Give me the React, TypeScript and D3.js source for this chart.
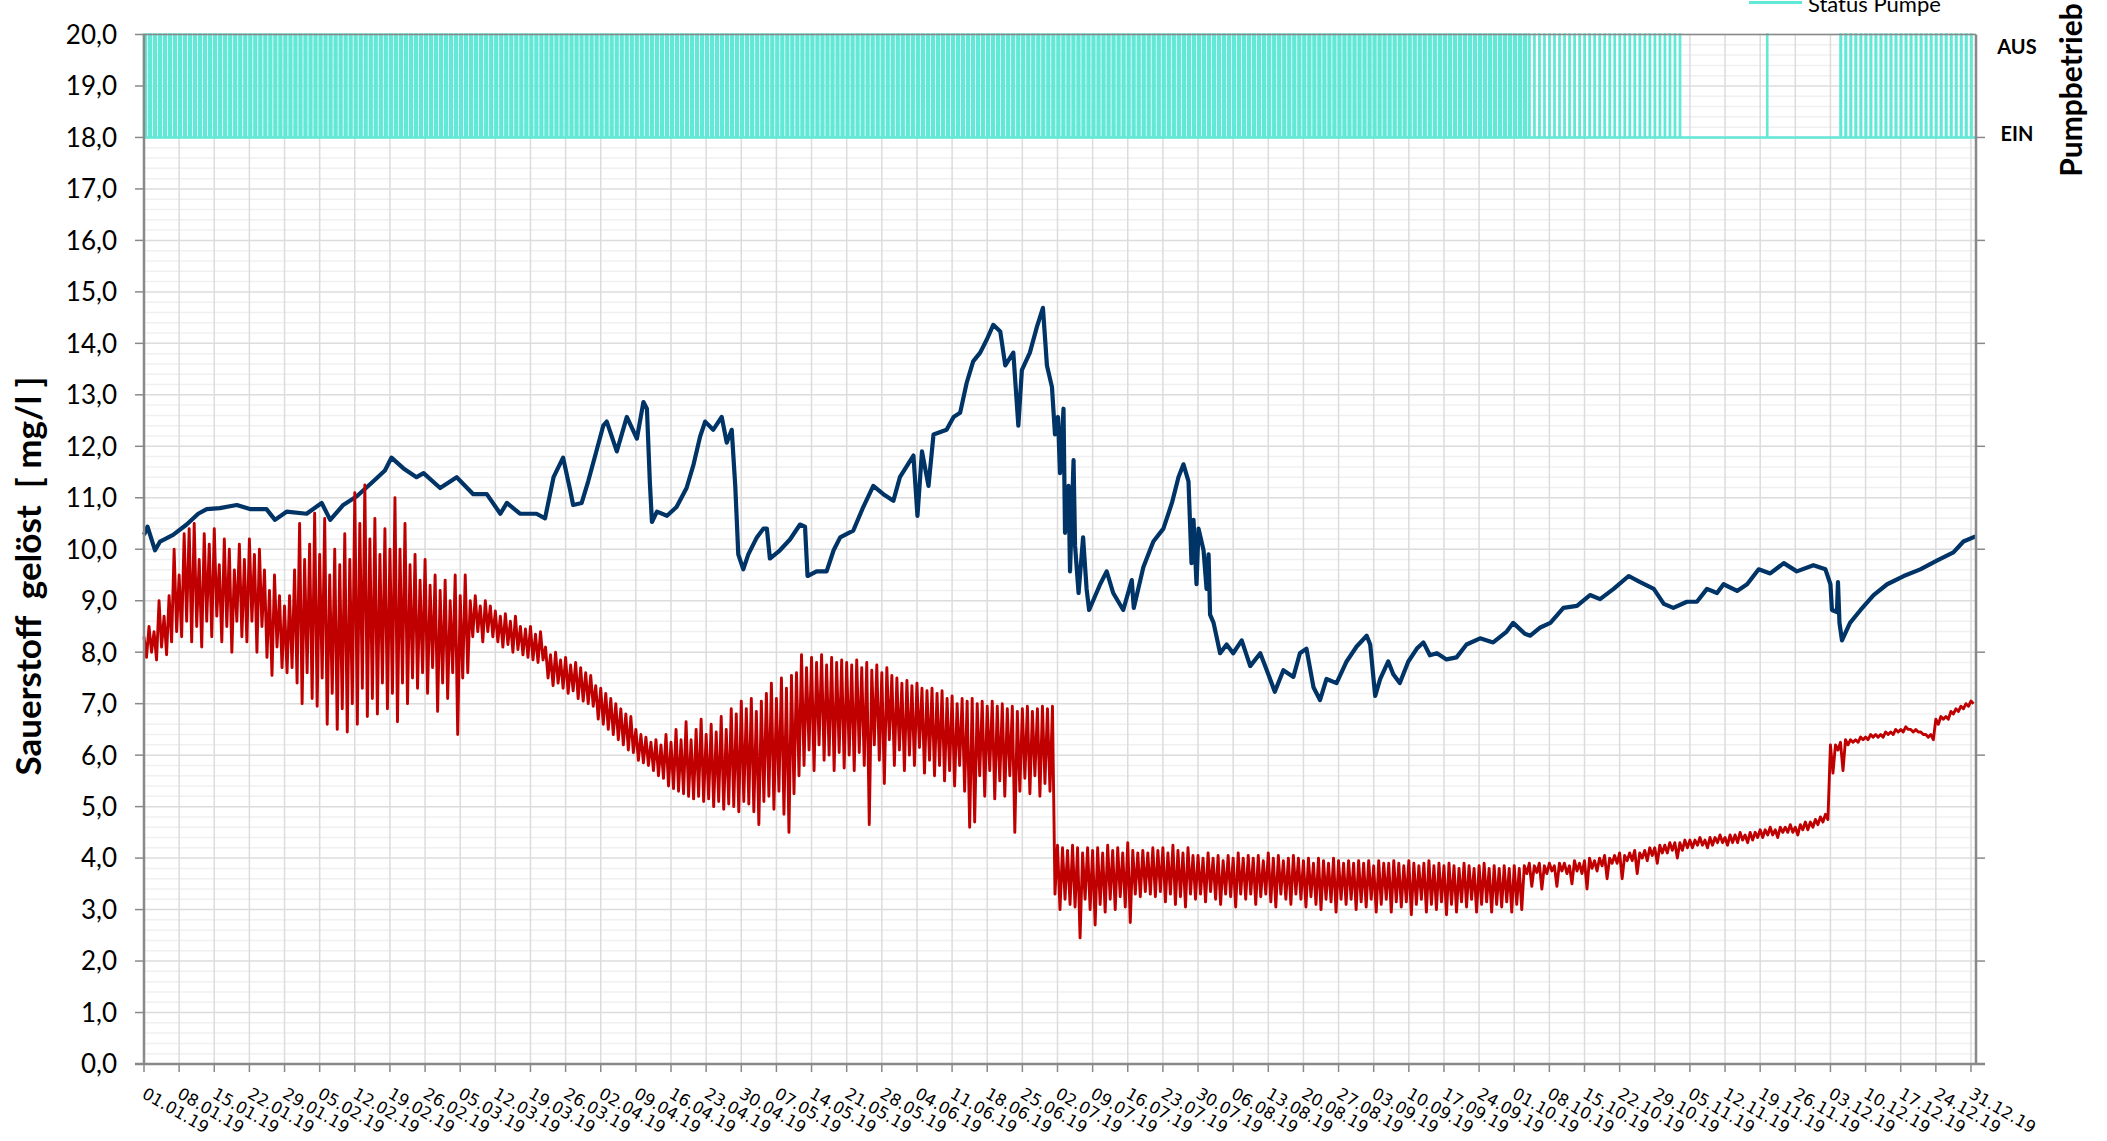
import * as d3 from 'd3';

const WIDTH = 2107;
const HEIGHT = 1141;
const PLOT = { left: 144, right: 1976, top: 34.5, bottom: 1064 };

const START = Date.UTC(2019, 0, 1);
const DAY = 86400000;
const DAYS = 365;

// Sauerstoff blau: [Tag seit 01.01.19, mg/l]
const blueSeries: [number, number][] = [
  [0, 10.28], [0.7, 10.44], [2.2, 9.98], [3.2, 10.15], [5.8, 10.28], [8.5, 10.48], [10.8, 10.69], [12.5, 10.78],
  [15.1, 10.8], [18.5, 10.86], [21.1, 10.78], [24.4, 10.78], [26.1, 10.57], [28.4, 10.73], [32.4, 10.69], [35.4, 10.9],
  [37.1, 10.57], [39.7, 10.86], [42.4, 11.03], [45.7, 11.32], [48, 11.53], [49.3, 11.78], [51.7, 11.57], [54.3, 11.4],
  [55.7, 11.48], [59, 11.19], [62.3, 11.4], [65.6, 11.07], [68.3, 11.07], [71, 10.69], [72.3, 10.9], [74.9, 10.69],
  [78.2, 10.69], [79.9, 10.6], [81.6, 11.4], [83.5, 11.78], [84.9, 11.15], [85.5, 10.86], [87.2, 10.9], [88.5, 11.32],
  [89.9, 11.82], [91.5, 12.4], [92.2, 12.48], [94.2, 11.9], [96.2, 12.57], [98.2, 12.15], [99.5, 12.86], [100.2, 12.73],
  [100.8, 11.27], [101.2, 10.53], [102.2, 10.73], [104.2, 10.65], [106.1, 10.82], [108.1, 11.19], [109.5, 11.65],
  [110.8, 12.19], [111.8, 12.48], [113.4, 12.32], [115.1, 12.57], [116.1, 12.07], [117.1, 12.32], [117.8, 11.23],
  [118.1, 10.57], [118.4, 9.9], [119.4, 9.61], [120.4, 9.9], [122.1, 10.23], [123.4, 10.4], [124.1, 10.4], [124.7, 9.82],
  [126.7, 9.98], [128.7, 10.19], [130.7, 10.48], [131.7, 10.44], [132.2, 9.48], [134, 9.57], [136, 9.57], [137.4, 9.98],
  [138.7, 10.23], [141.3, 10.36], [143.3, 10.82], [145.3, 11.23], [147.3, 11.07], [149.3, 10.94], [150.6, 11.4],
  [153.3, 11.82], [154.1, 10.65], [155, 11.9], [156.3, 11.23], [157.3, 12.23], [159.9, 12.32], [161.3, 12.57],
  [162.6, 12.65], [163.9, 13.23], [165.2, 13.65], [166.6, 13.82], [167.9, 14.07], [169.2, 14.36], [170.6, 14.23],
  [171.6, 13.57], [173.2, 13.82], [174.2, 12.4], [174.9, 13.48], [176.5, 13.82], [177.9, 14.32], [179.1, 14.69],
  [179.9, 13.57], [180.9, 13.15], [181.5, 12.23], [182.1, 12.57], [182.5, 11.48], [183.2, 12.73], [183.5, 10.32],
  [184.2, 11.23], [184.5, 9.57], [185.2, 11.73], [185.5, 10.07], [186.2, 9.15], [187.1, 10.23], [187.8, 9.23],
  [188.3, 8.82], [190.5, 9.32], [191.8, 9.57], [193.1, 9.15], [195.1, 8.82], [196.8, 9.4], [197.2, 8.86], [199.1, 9.65],
  [201.1, 10.15], [203.1, 10.4], [204.8, 10.9], [206.1, 11.4], [207.1, 11.65], [208.1, 11.32], [208.7, 9.73],
  [209.1, 10.57], [209.7, 9.32], [210.1, 10.4], [211.1, 9.98], [211.7, 9.23], [212.1, 9.9], [212.4, 8.73], [213.1, 8.57],
  [214.4, 7.98], [215.7, 8.15], [217, 7.98], [218.7, 8.23], [220.4, 7.73], [222.4, 7.98], [223.7, 7.65], [225.3, 7.23],
  [227, 7.65], [229, 7.52], [230.3, 7.98], [231.6, 8.07], [233, 7.32], [234.3, 7.07], [235.6, 7.48], [237.6, 7.4],
  [239.6, 7.82], [241.6, 8.11], [243.6, 8.32], [244.3, 8.15], [245.3, 7.15], [246.3, 7.48], [247.9, 7.82], [248.9, 7.57],
  [250.2, 7.4], [251.9, 7.82], [253.6, 8.07], [254.9, 8.19], [256.2, 7.94], [257.6, 7.98], [259.5, 7.86], [261.5, 7.9],
  [263.5, 8.15], [266.2, 8.27], [268.8, 8.19], [271.5, 8.4], [272.8, 8.57], [275.1, 8.36], [276.2, 8.32], [278.2, 8.48],
  [280.2, 8.57], [282.8, 8.86], [285.5, 8.9], [288.1, 9.11], [290.1, 9.03], [292.8, 9.23], [295.8, 9.48], [298.1, 9.36],
  [300.8, 9.23], [302.8, 8.94], [304.7, 8.86], [307.4, 8.98], [309.4, 8.98], [311.4, 9.23], [313.4, 9.15], [314.7, 9.32],
  [317.4, 9.19], [319.4, 9.32], [321.7, 9.61], [324, 9.53], [326.7, 9.73], [329.3, 9.57], [332.6, 9.69], [335, 9.61],
  [336, 9.32], [336.3, 8.82], [337.3, 8.78], [337.5, 9.36], [337.8, 8.57], [338.3, 8.23], [339.9, 8.57], [342, 8.82],
  [344.6, 9.11], [347.3, 9.32], [350.6, 9.48], [353.9, 9.61], [357.2, 9.78], [360.5, 9.94], [362.5, 10.15], [364.9, 10.25],
];

// Sauerstoff rot: Tageshöchst- und Tagestiefstwerte ab 01.01.19
const redHigh = [
  8.3, 8.5, 8.4, 9.0, 8.7, 9.1, 10.0, 9.5, 10.3, 10.4,
  10.5, 9.8, 10.3, 10.1, 10.4, 9.7, 10.2, 10.0, 9.6, 10.1,
  9.8, 10.2, 9.9, 10.0, 9.6, 9.2, 9.5, 9.1, 8.9, 9.1,
  9.6, 10.5, 9.8, 10.1, 10.7, 9.9, 10.6, 9.5, 10.0, 9.7,
  10.3, 9.8, 11.1, 10.5, 11.25, 10.2, 10.6, 9.9, 10.4, 10.0,
  11.0, 10.0, 10.5, 9.7, 9.9, 9.4, 9.8, 9.3, 9.5, 9.2,
  9.4, 9.0, 9.5, 9.1, 9.5, 9.0, 9.1, 8.9, 9.0, 8.9,
  8.8, 8.7, 8.75, 8.6, 8.7, 8.5, 8.45, 8.5, 8.35, 8.4,
  8.1, 7.95, 8.0, 7.85, 7.9, 7.75, 7.8, 7.7, 7.6, 7.55,
  7.35, 7.3, 7.2, 7.1, 7.0, 6.9, 6.8, 6.75, 6.5, 6.4,
  6.35, 6.25, 6.3, 6.2, 6.4, 6.25, 6.5, 6.3, 6.65, 6.3,
  6.5, 6.7, 6.4, 6.6, 6.45, 6.75, 6.5, 6.9, 6.8, 7.05,
  6.9, 7.1, 6.85, 7.05, 7.2, 7.4, 7.1, 7.5, 7.3, 7.55,
  7.6, 7.95, 7.7, 7.9, 7.8, 7.95, 7.75, 7.9, 7.8, 7.85,
  7.8, 7.75, 7.85, 7.7, 7.8, 7.65, 7.75, 7.6, 7.7, 7.55,
  7.5, 7.4, 7.45, 7.35, 7.4, 7.3, 7.25, 7.3, 7.2, 7.25,
  7.1, 7.15, 7.0, 7.1, 7.05, 7.1, 7.0, 7.05, 6.95, 7.05,
  6.95, 7.0, 6.9, 6.95, 6.85, 6.9, 6.95, 6.85, 6.9, 6.95,
  6.9, 6.95, 4.25, 4.2, 4.15, 4.25, 4.2, 4.1, 4.2, 4.15,
  4.2, 4.1, 4.25, 4.15, 4.2, 4.1, 4.3, 4.15, 4.1, 4.15,
  4.1, 4.2, 4.15, 4.2, 4.1, 4.25, 4.15, 4.1, 4.2, 4.05,
  4.05, 4.0, 4.1, 4.0, 4.05, 3.95, 4.05, 4.0, 4.1, 4.0,
  4.05, 4.0, 4.05, 3.95, 4.1, 4.0, 4.05, 3.95, 4.0, 4.05,
  4.0, 3.95, 4.0, 3.9, 4.0, 3.95, 3.9, 4.0, 3.95, 3.9,
  3.95, 3.9, 3.95, 3.9, 3.95, 3.85, 3.95, 3.9, 3.9, 3.95,
  3.9, 3.85, 3.95, 3.9, 3.85, 3.9, 3.95, 3.85, 3.9, 3.85,
  3.9, 3.85, 3.8, 3.9, 3.85, 3.8, 3.85, 3.9, 3.8, 3.85,
  3.8, 3.85, 3.8, 3.85, 3.8, 3.85, 3.9, 3.85, 3.9, 3.85,
  3.9, 3.85, 3.9, 3.9, 3.85, 3.95, 3.9, 3.95, 4.0, 3.95,
  4.0, 4.05, 4.0, 4.05, 4.1, 4.05, 4.1, 4.15, 4.1, 4.15,
  4.2, 4.2, 4.25, 4.25, 4.3, 4.3, 4.3, 4.35, 4.35, 4.35,
  4.4, 4.35, 4.4, 4.4, 4.45, 4.4, 4.45, 4.45, 4.5, 4.45,
  4.5, 4.5, 4.55, 4.55, 4.6, 4.55, 4.6, 4.6, 4.65, 4.6,
  4.65, 4.7, 4.7, 4.75, 4.8, 4.85, 6.2, 6.2, 6.25, 6.3,
  6.3, 6.3, 6.35, 6.35, 6.4, 6.4, 6.4, 6.45, 6.45, 6.5,
  6.5, 6.55, 6.5, 6.5, 6.45, 6.4, 6.4, 6.7, 6.75, 6.75,
  6.85, 6.9, 6.95, 7.0, 7.05,
];
const redLow = [
  7.9, 8.0, 7.85, 8.1, 7.95, 8.2, 8.4, 8.3, 8.6, 8.2,
  8.5, 8.1, 8.6, 8.3, 8.7, 8.2, 8.5, 8.0, 8.6, 8.3,
  8.2, 8.6, 8.0, 8.5, 7.9, 7.55, 8.1, 7.7, 7.6, 7.7,
  7.4, 7.0, 7.6, 7.1, 6.95, 7.5, 6.6, 7.2, 6.5, 6.9,
  6.45, 7.0, 6.6, 7.3, 6.75, 7.1, 6.8, 7.4, 6.9, 7.2,
  6.65, 7.4, 7.0, 7.5, 7.3, 7.6, 7.2, 7.7, 6.85, 7.4,
  7.1, 7.6, 6.4, 7.5, 7.6, 8.3, 8.4, 8.2, 8.4, 8.3,
  8.2, 8.1, 8.15, 8.0, 8.05, 7.95, 7.9, 7.85, 7.8, 7.85,
  7.5, 7.35, 7.4, 7.3, 7.2, 7.25, 7.1, 7.05, 7.0, 6.95,
  6.7, 6.6, 6.5, 6.4, 6.3, 6.2, 6.1, 6.05, 5.9, 5.85,
  5.8, 5.7, 5.6, 5.55, 5.4, 5.35, 5.3, 5.25, 5.2, 5.15,
  5.2, 5.1, 5.15, 5.0, 5.1, 4.95, 5.05, 5.0, 4.9, 5.1,
  5.05, 4.9, 4.65, 5.1, 5.2, 4.95, 5.3, 4.85, 4.5, 5.25,
  5.6, 5.8, 6.1, 5.7, 6.2, 5.9, 6.0, 5.7, 6.05, 5.75,
  6.0, 5.7, 6.05, 5.8, 4.65, 6.2, 5.9, 5.45, 6.3, 5.8,
  6.1, 5.7, 6.0, 5.8, 6.15, 5.65, 5.9, 5.6, 5.8, 5.5,
  5.7, 5.4, 5.8, 5.3, 4.6, 4.7, 5.6, 5.2, 5.7, 5.15,
  5.5, 5.2, 5.6, 4.5, 5.3, 5.55, 5.25, 5.6, 5.2, 5.45,
  5.3, 3.3, 3.0, 3.2, 3.1, 3.05, 2.45, 3.2, 3.0, 2.7,
  3.1, 2.95, 3.2, 3.0, 3.25, 3.05, 2.75, 3.3, 3.25, 3.35,
  3.3, 3.25, 3.35, 3.15, 3.3, 3.1, 3.25, 3.05, 3.3, 3.2,
  3.3, 3.15, 3.35, 3.2, 3.1, 3.3, 3.25, 3.05, 3.3, 3.2,
  3.3, 3.1, 3.25, 3.3, 3.15, 3.05, 3.3, 3.2, 3.1, 3.3,
  3.2, 3.05, 3.25, 3.1, 3.0, 3.2, 3.15, 2.95, 3.2, 3.1,
  3.2, 3.0, 3.15, 3.05, 3.2, 2.95, 3.1, 3.2, 2.95, 3.15,
  3.05, 3.15, 2.9, 3.1, 3.2, 2.95, 3.1, 3.0, 3.15, 2.9,
  3.1, 2.95, 3.15, 3.05, 3.2, 2.95, 3.1, 3.15, 2.95, 3.1,
  3.05, 3.15, 2.95, 3.1, 3.0, 3.7, 3.45, 3.72, 3.4, 3.7,
  3.75, 3.45, 3.75, 3.7, 3.5, 3.75, 3.7, 3.4, 3.8, 3.75,
  3.85, 3.6, 3.9, 3.9, 3.6, 3.95, 3.95, 3.7, 4.0, 3.95,
  4.05, 3.9, 4.1, 4.1, 4.15, 4.0, 4.15, 4.2, 4.2, 4.25,
  4.25, 4.2, 4.25, 4.3, 4.3, 4.25, 4.3, 4.3, 4.35, 4.3,
  4.35, 4.4, 4.4, 4.45, 4.45, 4.4, 4.5, 4.5, 4.5, 4.45,
  4.55, 4.55, 4.6, 4.65, 4.7, 4.75, 5.65, 6.1, 5.7, 6.2,
  6.25, 6.25, 6.3, 6.3, 6.35, 6.35, 6.35, 6.4, 6.4, 6.45,
  6.45, 6.5, 6.45, 6.45, 6.4, 6.35, 6.3, 6.6, 6.7, 6.7,
  6.8, 6.85, 6.9, 6.95, 7.0,
];

// Pumpbetrieb: Zeiträume mit täglichem Schaltzyklus [von Tag, bis Tag, Dauer AUS in Tagen]
const pumpCycles: [number, number, number][] = [
  [0, 275.7, 0.35],
  [275.7, 306.6, 0.05],
  [337.2, 365, 0.12],
];
const pumpSwitches = [323.4];
const STATUS_EIN = 18;
const STATUS_AUS = 20;

const yTicks = d3.range(0, 21, 1);
const yMinor = d3.range(0, 100).map((i) => i * 0.2).filter((v) => Math.abs(v - Math.round(v)) > 0.01);
const yRightTicks = d3.range(0, 20, 2);

const C_BLUE = '#003366';
const C_RED = '#C00000';
const C_TEAL = '#62E8D6';
const C_AXIS = '#898989';

export default function App() {
  const toDate = (d: number) => new Date(START + d * DAY);
  const x = d3.scaleUtc().domain([toDate(0), toDate(DAYS)]).range([PLOT.left, PLOT.right]);
  const y = d3.scaleLinear().domain([0, 20]).range([PLOT.bottom, PLOT.top]);
  const xTicks = d3.utcDay.range(toDate(0), toDate(DAYS), 7);
  const fmt = d3.utcFormat('%d.%m.%y');

  const line = d3
    .line<[number, number]>()
    .x((p) => x(toDate(p[0])))
    .y((p) => y(p[1]));

  // je Tag: Höchstwert, dann Tiefstwert
  const redPoints: [number, number][] = [];
  redHigh.forEach((hi, d) => {
    redPoints.push([d, hi], [d + 0.5, redLow[d]]);
  });

  const ausIntervals: [number, number][] = [];
  pumpCycles.forEach(([from, to, off]) => {
    for (let d = Math.ceil(from); d < to; d++) ausIntervals.push([d, Math.min(d + off, DAYS)]);
  });
  pumpSwitches.forEach((t) => ausIntervals.push([t, t + 0.02]));
  ausIntervals.sort((a, b) => a[0] - b[0]);
  const statusPoints: [number, number][] = [[0, STATUS_EIN]];
  ausIntervals.forEach(([s, e]) => {
    statusPoints.push([s, STATUS_EIN], [s, STATUS_AUS], [e, STATUS_AUS], [e, STATUS_EIN]);
  });
  statusPoints.push([DAYS, STATUS_EIN]);

  return (
    <svg
      width={WIDTH}
      height={HEIGHT}
      style={{ position: 'absolute', left: 0, top: 0, background: '#fff' }}
      fontFamily="Lato, 'Noto Sans', sans-serif"
    >
      {/* Gitter */}
      <g>
        {yMinor.map((v) => (
          <line key={'m' + v} x1={PLOT.left} x2={PLOT.right} y1={y(v)} y2={y(v)} stroke="#F0F0F0" strokeWidth={1.5} />
        ))}
        {yTicks.map((v) => (
          <line key={'g' + v} x1={PLOT.left} x2={PLOT.right} y1={y(v)} y2={y(v)} stroke="#DCDCDC" strokeWidth={1.5} />
        ))}
        {xTicks.map((t) => (
          <line key={'v' + +t} x1={x(t)} x2={x(t)} y1={PLOT.top} y2={PLOT.bottom} stroke="#DCDCDC" strokeWidth={1.5} />
        ))}
      </g>

      {/* Reihen */}
      <path d={line(blueSeries) ?? ''} fill="none" stroke={C_BLUE} strokeWidth={4.2} strokeLinejoin="round" />
      <path d={line(redPoints) ?? ''} fill="none" stroke={C_RED} strokeWidth={2.9} strokeLinejoin="round" />
      <path d={line(statusPoints) ?? ''} fill="none" stroke={C_TEAL} strokeWidth={2.5} />

      {/* Achsen */}
      <line x1={PLOT.left} x2={PLOT.right} y1={PLOT.top} y2={PLOT.top} stroke={C_AXIS} strokeWidth={1.5} />
      <line x1={PLOT.left} x2={PLOT.left} y1={PLOT.top} y2={PLOT.bottom} stroke={C_AXIS} strokeWidth={2.5} />
      <line x1={PLOT.right} x2={PLOT.right} y1={PLOT.top} y2={PLOT.bottom} stroke={C_AXIS} strokeWidth={2.5} />
      <line x1={PLOT.left - 9} x2={PLOT.right + 9} y1={PLOT.bottom} y2={PLOT.bottom} stroke={C_AXIS} strokeWidth={2.5} />

      {yTicks.map((v) => (
        <g key={'yt' + v}>
          <line x1={PLOT.left - 9} x2={PLOT.left} y1={y(v)} y2={y(v)} stroke={C_AXIS} strokeWidth={1.5} />
          <text x={117} y={y(v)} dy="0.36em" textAnchor="end" fontSize={26} fill="#000">
            {d3.format('.1f')(v).replace('.', ',')}
          </text>
        </g>
      ))}
      {yRightTicks.map((v) => (
        <line key={'rt' + v} x1={PLOT.right} x2={PLOT.right + 9} y1={y(v)} y2={y(v)} stroke={C_AXIS} strokeWidth={1.5} />
      ))}
      {xTicks.map((t) => (
        <g key={'xt' + +t}>
          <line x1={x(t)} x2={x(t)} y1={PLOT.bottom} y2={PLOT.bottom + 8} stroke={C_AXIS} strokeWidth={1.5} />
          <text
            transform={`translate(${x(t) - 3},${PLOT.bottom + 33}) rotate(30)`}
            fontFamily="'DejaVu Sans', sans-serif"
            fontSize={16.5}
            fill="#000"
          >
            {fmt(t)}
          </text>
        </g>
      ))}

      {/* Titel */}
      <text
        transform={`translate(41,576) rotate(-90)`}
        textAnchor="middle"
        fontSize={35}
        fontWeight="bold"
        style={{ whiteSpace: 'pre' }}
      >
        {'Sauerstoff  gelöst  [ mg/l ]'}
      </text>
      <text transform={`translate(2082,90) rotate(-90)`} textAnchor="middle" fontSize={30} fontWeight="bold">
        Pumpbetrieb
      </text>
      <text x={2017} y={54} textAnchor="middle" fontSize={20} fontWeight="bold">
        AUS
      </text>
      <text x={2017} y={141} textAnchor="middle" fontSize={20} fontWeight="bold">
        EIN
      </text>

      {/* Legende */}
      <line x1={1749} x2={1802} y1={2.5} y2={2.5} stroke={C_TEAL} strokeWidth={3} />
      <text x={1808} y={12} fontSize={22} fill="#000">
        Status Pumpe
      </text>
    </svg>
  );
}
